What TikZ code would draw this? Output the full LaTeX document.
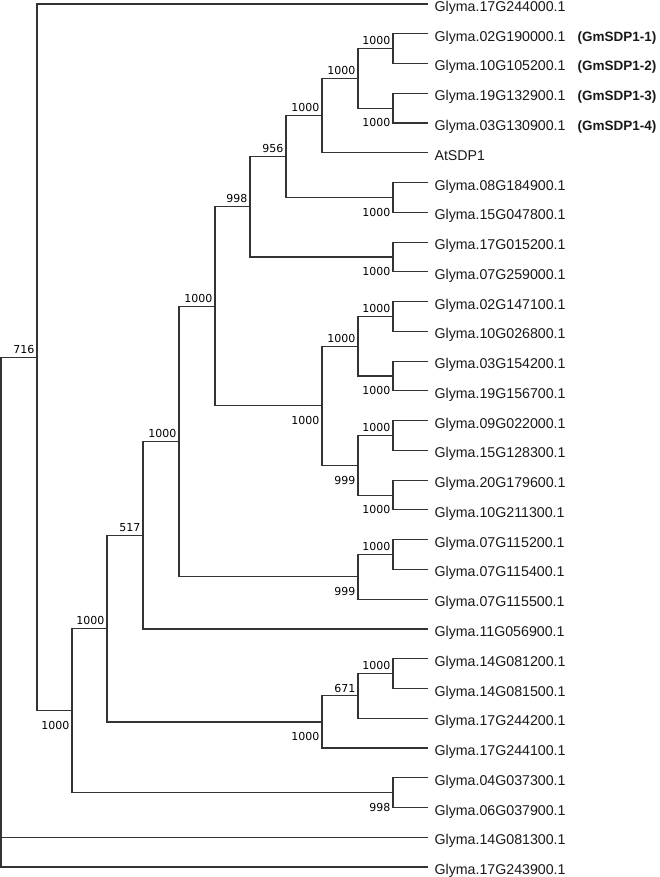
\documentclass[tikz,border=0pt]{standalone}
\usepackage{fontspec}
\newfontfamily\leaffont{Liberation Sans}
\newfontfamily\bootfont{DejaVu Sans}
\definecolor{branch}{gray}{0.2}
\newcommand{\sdp}[2]{\makebox[143pt][l]{#1}{\fontsize{13.5}{16}\selectfont\bfseries(#2)}}
\tikzset{
	leaf/.style={anchor=west, inner xsep=6pt, inner ysep=0pt,
		text height=15pt, text depth=0pt, text=black!90,
		font=\leaffont\fontsize{14.2}{16}\selectfont},
	bsup/.style={anchor=south east, inner sep=0pt, xshift=-2pt, yshift=3pt,
		font=\bootfont\fontsize{11}{12}\selectfont},
	bsdown/.style={anchor=north east, inner sep=0pt, xshift=-2pt, yshift=-10pt,
		font=\bootfont\fontsize{11}{12}\selectfont}
}
\begin{document}
\begin{tikzpicture}[x=1pt, y=-1pt, line width=1.1pt, draw=branch]
	\useasboundingbox (0,0) rectangle (660,877);
	\node [leaf] (l0) at (428,4.0) {Glyma.17G244000.1};
	\node [leaf] (l1) at (428,33.8) {\sdp{Glyma.02G190000.1}{GmSDP1-1}};
	\node [leaf] (l2) at (428,63.5) {\sdp{Glyma.10G105200.1}{GmSDP1-2}};
	\node [leaf] (l3) at (428,93.3) {\sdp{Glyma.19G132900.1}{GmSDP1-3}};
	\node [leaf] (l4) at (428,123.0) {\sdp{Glyma.03G130900.1}{GmSDP1-4}};
	\node [leaf] (l5) at (428,152.8) {AtSDP1};
	\node [leaf] (l6) at (428,182.6) {Glyma.08G184900.1};
	\node [leaf] (l7) at (428,212.3) {Glyma.15G047800.1};
	\node [leaf] (l8) at (428,242.1) {Glyma.17G015200.1};
	\node [leaf] (l9) at (428,271.8) {Glyma.07G259000.1};
	\node [leaf] (l10) at (428,301.6) {Glyma.02G147100.1};
	\node [leaf] (l11) at (428,331.4) {Glyma.10G026800.1};
	\node [leaf] (l12) at (428,361.1) {Glyma.03G154200.1};
	\node [leaf] (l13) at (428,390.9) {Glyma.19G156700.1};
	\node [leaf] (l14) at (428,420.6) {Glyma.09G022000.1};
	\node [leaf] (l15) at (428,450.4) {Glyma.15G128300.1};
	\node [leaf] (l16) at (428,480.2) {Glyma.20G179600.1};
	\node [leaf] (l17) at (428,509.9) {Glyma.10G211300.1};
	\node [leaf] (l18) at (428,539.7) {Glyma.07G115200.1};
	\node [leaf] (l19) at (428,569.4) {Glyma.07G115400.1};
	\node [leaf] (l20) at (428,599.2) {Glyma.07G115500.1};
	\node [leaf] (l21) at (428,629.0) {Glyma.11G056900.1};
	\node [leaf] (l22) at (428,658.7) {Glyma.14G081200.1};
	\node [leaf] (l23) at (428,688.5) {Glyma.14G081500.1};
	\node [leaf] (l24) at (428,718.2) {Glyma.17G244200.1};
	\node [leaf] (l25) at (428,748.0) {Glyma.17G244100.1};
	\node [leaf] (l26) at (428,777.8) {Glyma.04G037300.1};
	\node [leaf] (l27) at (428,807.5) {Glyma.06G037900.1};
	\node [leaf] (l28) at (428,837.3) {Glyma.14G081300.1};
	\node [leaf] (l29) at (428,867.0) {Glyma.17G243900.1};

	\coordinate (n1) at (393,48.65);
	\coordinate (n2) at (393,108.15);
	\coordinate (n3) at (358,78.4);
	\coordinate (n4) at (322,115.6);
	\coordinate (n5) at (393,197.45);
	\coordinate (n6) at (286,156.5);
	\coordinate (n7) at (393,256.95);
	\coordinate (n8) at (250,206.7);
	\coordinate (n9) at (393,316.5);
	\coordinate (n10) at (393,376.0);
	\coordinate (n11) at (358,346.25);
	\coordinate (n12) at (393,435.5);
	\coordinate (n13) at (393,495.05);
	\coordinate (n14) at (358,465.3);
	\coordinate (n15) at (322,405.8);
	\coordinate (n16) at (215,306.25);
	\coordinate (n17) at (393,554.55);
	\coordinate (n18) at (358,576.9);
	\coordinate (n19) at (179,441.6);
	\coordinate (n20) at (143,535.3);
	\coordinate (n21) at (393,673.6);
	\coordinate (n22) at (358,695.9);
	\coordinate (n23) at (322,722.0);
	\coordinate (n24) at (107,628.6);
	\coordinate (n25) at (393,792.65);
	\coordinate (n26) at (72,710.6);
	\coordinate (n27) at (37,357.3);
	\coordinate (root) at (1,612.15);

	\draw (n1) |- (l1) (n1) |- (l2);
	\draw (n2) |- (l3) (n2) |- (l4);
	\draw (n3) |- (n1) (n3) |- (n2);
	\draw (n4) |- (n3) (n4) |- (l5);
	\draw (n5) |- (l6) (n5) |- (l7);
	\draw (n6) |- (n4) (n6) |- (n5);
	\draw (n7) |- (l8) (n7) |- (l9);
	\draw (n8) |- (n6) (n8) |- (n7);
	\draw (n9) |- (l10) (n9) |- (l11);
	\draw (n10) |- (l12) (n10) |- (l13);
	\draw (n11) |- (n9) (n11) |- (n10);
	\draw (n12) |- (l14) (n12) |- (l15);
	\draw (n13) |- (l16) (n13) |- (l17);
	\draw (n14) |- (n12) (n14) |- (n13);
	\draw (n15) |- (n11) (n15) |- (n14);
	\draw (n16) |- (n8) (n16) |- (n15);
	\draw (n17) |- (l18) (n17) |- (l19);
	\draw (n18) |- (n17) (n18) |- (l20);
	\draw (n19) |- (n16) (n19) |- (n18);
	\draw (n20) |- (n19) (n20) |- (l21);
	\draw (n21) |- (l22) (n21) |- (l23);
	\draw (n22) |- (n21) (n22) |- (l24);
	\draw (n23) |- (n22) (n23) |- (l25);
	\draw (n24) |- (n20) (n24) |- (n23);
	\draw (n25) |- (l26) (n25) |- (l27);
	\draw (n26) |- (n24) (n26) |- (n25);
	\draw (n27) |- (l0) (n27) |- (n26);
	\draw (root) |- (n27) (root) |- (l28) (root) |- (l29);

	\node [bsup] (b1) at (n1) {1000};
	\node [bsdown] (b2) at (n2) {1000};
	\node [bsup] (b3) at (n3) {1000};
	\node [bsup] (b4) at (n4) {1000};
	\node [bsdown] (b5) at (n5) {1000};
	\node [bsup] (b6) at (n6) {956};
	\node [bsdown] (b7) at (n7) {1000};
	\node [bsup] (b8) at (n8) {998};
	\node [bsup] (b9) at (n9) {1000};
	\node [bsdown] (b10) at (n10) {1000};
	\node [bsup] (b11) at (n11) {1000};
	\node [bsup] (b12) at (n12) {1000};
	\node [bsdown] (b13) at (n13) {1000};
	\node [bsdown] (b14) at (n14) {999};
	\node [bsdown] (b15) at (n15) {1000};
	\node [bsup] (b16) at (n16) {1000};
	\node [bsup] (b17) at (n17) {1000};
	\node [bsdown] (b18) at (n18) {999};
	\node [bsup] (b19) at (n19) {1000};
	\node [bsup] (b20) at (n20) {517};
	\node [bsup] (b21) at (n21) {1000};
	\node [bsup] (b22) at (n22) {671};
	\node [bsdown] (b23) at (n23) {1000};
	\node [bsup] (b24) at (n24) {1000};
	\node [bsdown] (b25) at (n25) {998};
	\node [bsdown] (b26) at (n26) {1000};
	\node [bsup] (b27) at (n27) {716};
\end{tikzpicture}
\end{document}
